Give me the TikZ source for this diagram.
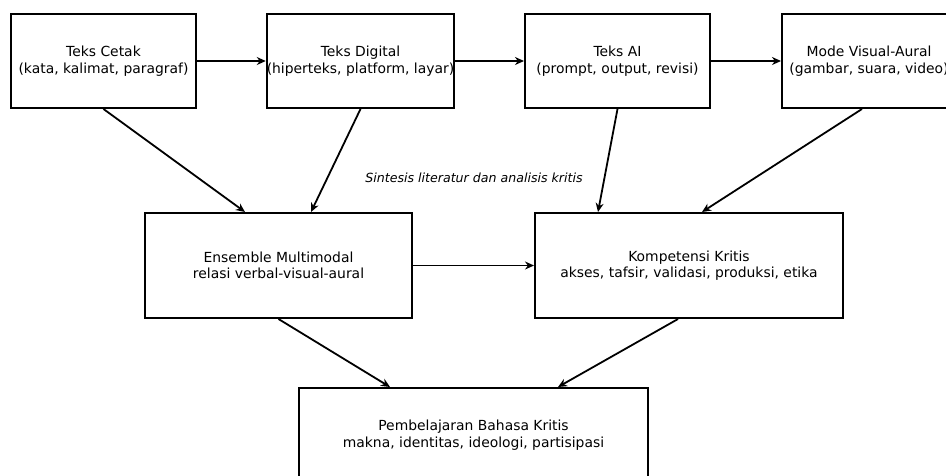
\documentclass[tikz,border=0pt]{standalone}
\usepackage{fontspec}
\setmainfont{DejaVu Sans}
\usetikzlibrary{arrows.meta}
\tikzset{box/.style = {draw, line width = 2pt, align = center, inner sep = 0,
    minimum width = 185, minimum height = 94, font = \fontsize{13.9}{16.5}\selectfont}}
\tikzset{arr/.style = {-{Stealth[length = 9pt, width = 8pt]}, line width = 1.8pt}}

\begin{document}
\begin{tikzpicture}[x = 1pt, y = -1pt]
      \useasboundingbox (0, 0) rectangle (946, 475);
      \node [box] (cetak) at (103.5, 61) {Teks Cetak\\(kata, kalimat, paragraf)};
      \node [box] (digital) at (360.5, 61) {Teks Digital\\(hiperteks, platform, layar)};
      \node [box] (ai) at (617.5, 61) {Teks AI\\(prompt, output, revisi)};
      \node [box, minimum width = 174] (mode) at (869, 61) {Mode Visual-Aural\\(gambar, suara, video)};
      \node [box, minimum width = 267, minimum height = 105] (ens) at (278.5, 265.5) {Ensemble Multimodal\\relasi verbal-visual-aural};
      \node [box, minimum width = 308, minimum height = 105] (komp) at (689, 265.5) {Kompetensi Kritis\\akses, tafsir, validasi, produksi, etika};
      \node [box, minimum width = 349] (bel) at (473.5, 435) {Pembelajaran Bahasa Kritis\\makna, identitas, ideologi, partisipasi};
      \node [font = \fontsize{12.6}{15}\selectfont\itshape] (sintesis) at (474, 178) {Sintesis literatur dan analisis kritis};
      \draw [arr] (cetak) -- (digital);
      \draw [arr] (digital) -- (ai);
      \draw [arr] (ai) -- (mode);
      \draw [arr] (cetak.south) -- ([xshift = -33.5]ens.north);
      \draw [arr] (digital.south) -- ([xshift = 32.5]ens.north);
      \draw [arr] (ai.south) -- ([xshift = -91]komp.north);
      \draw [arr] ([xshift = -7]mode.south) -- ([xshift = 13]komp.north);
      \draw [arr] (ens) -- (komp);
      \draw [arr] (ens.south) -- ([xshift = -83.5]bel.north);
      \draw [arr] ([xshift = -11]komp.south) -- ([xshift = 84.5]bel.north);
    \end{tikzpicture}
\end{document}
